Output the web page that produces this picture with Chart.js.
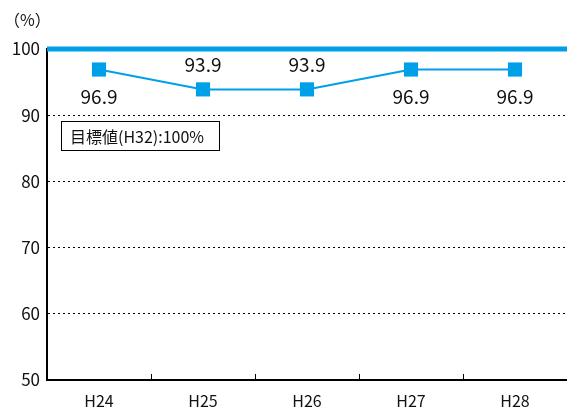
<!DOCTYPE html>
<html lang="ja">
<head>
    <meta charset="UTF-8">
    <title>目標値の推移</title>
    <script src="https://cdn.jsdelivr.net/npm/chart.js"></script>
    <style>
        html, body {
            margin: 0;
            padding: 0;
            background: #fff;
            overflow: hidden;
        }
        #wrap {
            width: 567px;
            height: 408px;
            position: relative;
        }
        canvas {
            display: block;
        }
    </style>
</head>
<body>
    <div id="wrap">
        <canvas id="rateChart"></canvas>
    </div>

    <script>
        // 年度と実績値
        const years = ['H24', 'H25', 'H26', 'H27', 'H28'];
        const rates = [96.9, 93.9, 93.9, 96.9, 96.9];
        const target = 100;
        const yTicks = [50, 60, 70, 80, 90, 100];
        // ラベルを点の上に出すか下に出すか
        const labelAbove = [false, true, true, false, false];

        const blue = '#00a0e9';
        const font = "'Noto Sans CJK JP', 'Noto Sans', sans-serif";

        // 目標線・目盛り・数値ラベル・注記を描く
        const extras = {
            id: 'extras',
            afterDatasetsDraw(chart) {
                const { ctx, chartArea, scales } = chart;
                const x = scales.x, y = scales.y;
                ctx.save();

                // x軸の区切り目盛り（内向き）
                ctx.strokeStyle = '#000';
                ctx.lineWidth = 1;
                for (let i = 1; i < years.length; i++) {
                    const px = Math.round((x.getPixelForValue(i - 1) + x.getPixelForValue(i)) / 2) + 0.5;
                    ctx.beginPath();
                    ctx.moveTo(px, chartArea.bottom);
                    ctx.lineTo(px, chartArea.bottom - 6);
                    ctx.stroke();
                }

                // 目標値100%の線
                const ty = y.getPixelForValue(target);
                ctx.strokeStyle = blue;
                ctx.lineWidth = 5;
                ctx.beginPath();
                ctx.moveTo(chartArea.left, ty);
                ctx.lineTo(chartArea.right, ty);
                ctx.stroke();

                // 数値ラベル
                ctx.fillStyle = '#111';
                ctx.font = '19px ' + font;
                ctx.textAlign = 'center';
                ctx.textBaseline = 'middle';
                rates.forEach((v, i) => {
                    const px = x.getPixelForValue(i);
                    const py = y.getPixelForValue(v);
                    ctx.fillText(v.toFixed(1), px, labelAbove[i] ? py - 25 : py + 27);
                });

                // 注記ボックス
                ctx.fillStyle = '#fff';
                ctx.fillRect(61.5, 121.5, 158, 29);
                ctx.strokeStyle = '#000';
                ctx.lineWidth = 1;
                ctx.strokeRect(61.5, 121.5, 158, 29);
                ctx.fillStyle = '#111';
                ctx.font = '16px ' + font;
                ctx.textAlign = 'left';
                ctx.fillText('目標値(H32):100%', 70, 137);

                // 単位
                ctx.font = '16px ' + font;
                ctx.fillText('（%）', 4, 20);

                ctx.restore();
            }
        };

        new Chart(document.getElementById('rateChart'), {
            type: 'line',
            data: {
                labels: years,
                datasets: [{
                    data: rates,
                    borderColor: blue,
                    backgroundColor: blue,
                    borderWidth: 2,
                    pointStyle: 'rect',
                    pointRadius: 10,
                    pointHoverRadius: 10,
                    pointBorderWidth: 0,
                    tension: 0
                }]
            },
            options: {
                responsive: true,
                maintainAspectRatio: false,
                animation: false,
                layout: {
                    autoPadding: false,
                    padding: { top: 49, right: 0, bottom: 0, left: 0 }
                },
                plugins: {
                    legend: { display: false },
                    tooltip: { enabled: false }
                },
                scales: {
                    x: {
                        offset: true,
                        grid: { display: false },
                        border: { color: '#000', width: 2 },
                        ticks: {
                            color: '#111',
                            font: { family: font, size: 16 },
                            padding: 3,
                            maxRotation: 0
                        },
                        afterFit(scale) {
                            scale.height = 28;
                            scale.paddingLeft = 0;
                            scale.paddingRight = 0;
                        }
                    },
                    y: {
                        min: 50,
                        max: 100,
                        afterBuildTicks(scale) {
                            scale.ticks = yTicks.map(v => ({ value: v }));
                        },
                        grid: {
                            drawTicks: false,
                            color: ctx => (ctx.tick && (ctx.tick.value === 50 || ctx.tick.value === 100)) ? 'rgba(0,0,0,0)' : '#000',
                            lineWidth: 1
                        },
                        border: { color: '#000', width: 2, dash: [2, 3] },
                        ticks: {
                            color: '#111',
                            font: { family: font, size: 17 },
                            padding: 7
                        },
                        afterFit(scale) {
                            scale.width = 47;
                            scale.paddingTop = 0;
                            scale.paddingBottom = 0;
                        }
                    }
                }
            },
            plugins: [extras]
        });
    </script>
</body>
</html>
